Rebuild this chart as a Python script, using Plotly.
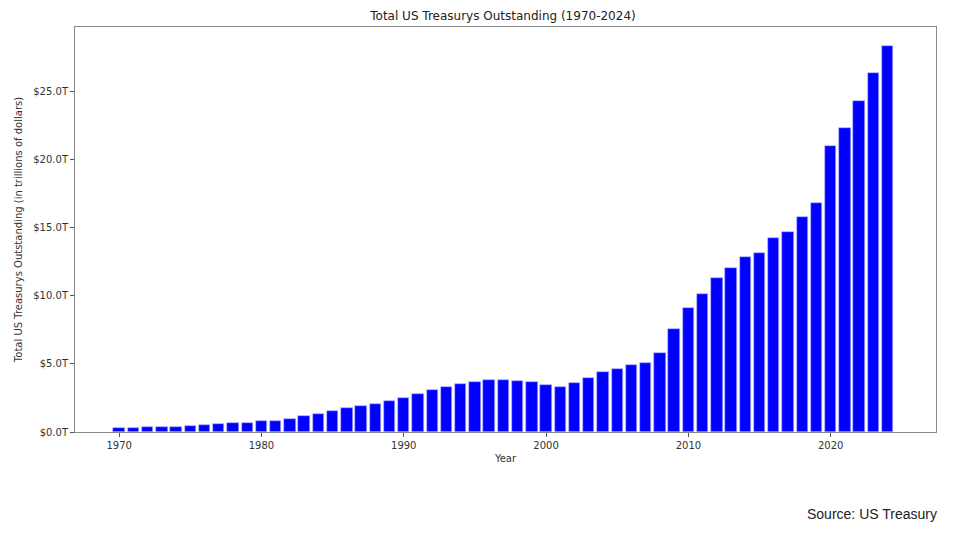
"""
Total US Treasurys outstanding, 1970-2024, as a simple bar chart.
"""

import plotly.graph_objects as go

# --- Data (trillions of dollars) ---
years = list(range(1970, 2025))
outstanding = [
    0.31, 0.32, 0.34, 0.34, 0.34, 0.46, 0.51, 0.56, 0.66, 0.66,  # 1970s
    0.78, 0.83, 0.98, 1.15, 1.34, 1.56, 1.78, 1.93, 2.08, 2.25,  # 1980s
    2.49, 2.79, 3.06, 3.30, 3.50, 3.69, 3.79, 3.79, 3.76, 3.64,  # 1990s
    3.42, 3.33, 3.56, 3.96, 4.37, 4.64, 4.88, 5.08, 5.80, 7.55,  # 2000s
    9.06, 10.1, 11.3, 12.0, 12.8, 13.1, 14.2, 14.7, 15.8, 16.8,  # 2010s
    21.0, 22.3, 24.3, 26.3, 28.3,                                 # 2020s
]
y_ticks = [0, 5, 10, 15, 20, 25]
y_tick_labels = [f"${v:.1f}T" for v in y_ticks]
x_ticks = [1970, 1980, 1990, 2000, 2010, 2020]

# page has an 8px body margin, so the figure is sized to fit inside it
W, H = 939, 517
L, R, T, B = 61, 10, 19, 93

fig = go.Figure()

fig.add_trace(go.Bar(
    x=years, y=outstanding, width=0.8,
    marker=dict(color="blue", line=dict(width=0.6, color="#b8b8ff")),
    showlegend=False,
))

axis_font = dict(family="DejaVu Sans", size=10, color="#333333")

fig.update_layout(
    width=W, height=H,
    margin=dict(l=L, r=R, t=T, b=B),
    paper_bgcolor="white",
    plot_bgcolor="white",
    bargap=0,
    title=dict(
        text="Total US Treasurys Outstanding (1970-2024)",
        font=dict(family="DejaVu Sans", size=12, color="#222222"),
        x=(L + (W - L - R) / 2) / W, xanchor="center",
        y=1 - 8 / H, yanchor="middle",
    ),
    xaxis=dict(
        range=[1966.9, 2027.4],
        tickvals=x_ticks,
        ticks="outside", ticklen=4, tickcolor="#555555",
        tickfont=axis_font,
        showgrid=False, zeroline=False,
        showline=True, linecolor="#888888", linewidth=1, mirror=True,
        title=dict(text="Year", font=axis_font, standoff=4),
    ),
    yaxis=dict(
        range=[0, 29.7],
        tickvals=y_ticks, ticktext=y_tick_labels,
        ticks="outside", ticklen=4, tickcolor="#555555",
        tickfont=axis_font,
        showgrid=False, zeroline=False,
        showline=True, linecolor="#888888", linewidth=1, mirror=True,
        title=dict(text="Total US Treasurys Outstanding (in trillions of dollars)",
                   font=axis_font, standoff=8),
    ),
    font=dict(family="DejaVu Sans"),
)

# source note, bottom right
fig.add_annotation(
    text="Source: US Treasury",
    xref="paper", yref="paper",
    x=(932 - L) / (W - L - R), y=-(506 - (H - B)) / (H - T - B),
    xanchor="right", yanchor="middle",
    showarrow=False,
    font=dict(family="Liberation Sans", size=14, color="#222222"),
)

fig.write_html("out.html")
